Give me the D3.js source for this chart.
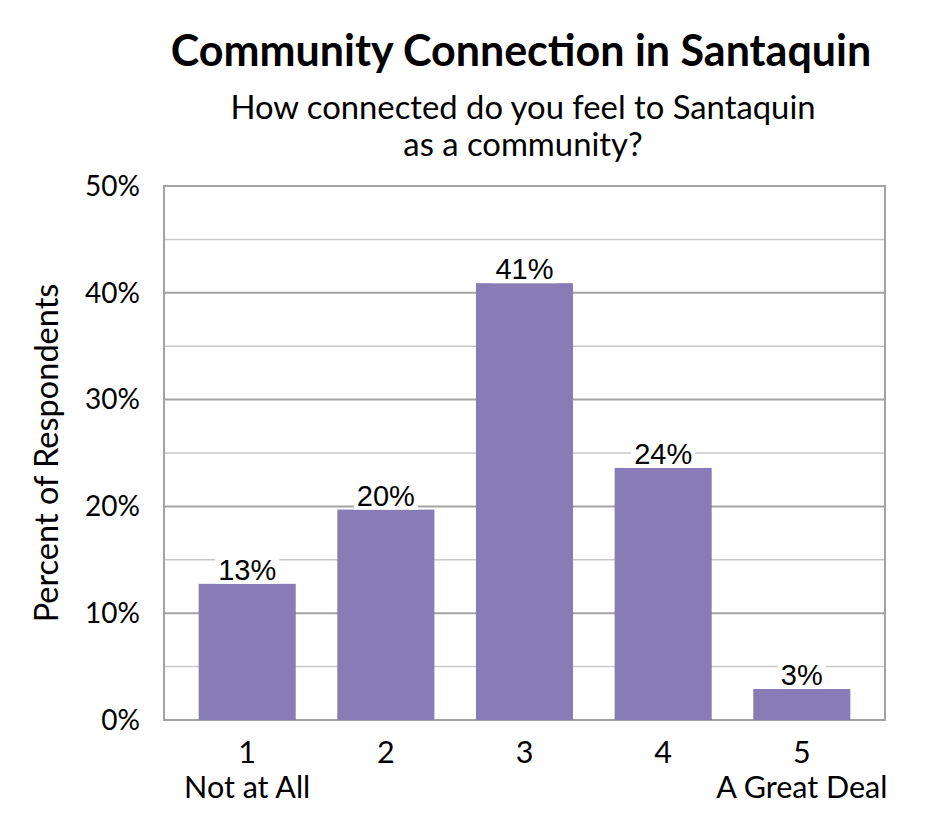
<!DOCTYPE html>
<html>
<head>
<meta charset="utf-8">
<script src="https://cdn.jsdelivr.net/npm/d3@7"></script>
<style>
  html, body { margin: 0; padding: 0; background: #fff; }
  svg { display: block; }
</style>
</head>
<body>
<svg id="chart" width="945" height="840"></svg>
<script>
// ---- data ----
const categories = ["1", "2", "3", "4", "5"];
const categorySubLabels = ["Not at All", "", "", "", "A Great Deal"];
const values = [12.75, 19.7, 40.9, 23.6, 2.9];
const valueLabels = ["13%", "20%", "41%", "24%", "3%"];
const yTicksMajor = [0, 10, 20, 30, 40, 50];
const yTicksMinor = [5, 15, 25, 35, 45];
const titleText = "Community Connection in Santaquin";
const subtitleLines = ["How connected do you feel to Santaquin", "as a community?"];
const yAxisTitle = "Percent of Respondents";

// ---- layout ----
const W = 945, H = 840;
const margin = { top: 186, right: 60, bottom: 120, left: 164 };
const uiFont = "Lato, 'Open Sans', sans-serif";
const labelFont = "'Liberation Sans', Arial, sans-serif";
const barColor = "#877cb5";

const svg = d3.select("#chart");

const x = d3.scaleBand()
  .domain(categories)
  .range([margin.left, W - margin.right])
  .paddingInner(0.3)
  .paddingOuter(0.25);

const y = d3.scaleLinear()
  .domain([0, 50])
  .range([H - margin.bottom, margin.top]);

// minor gridlines
svg.append("g").selectAll("line").data(yTicksMinor).join("line")
  .attr("x1", margin.left).attr("x2", W - margin.right)
  .attr("y1", d => y(d)).attr("y2", d => y(d))
  .attr("stroke", "#c9c9c9").attr("stroke-width", 1.5);

// major gridlines
svg.append("g").selectAll("line").data(yTicksMajor).join("line")
  .attr("x1", margin.left).attr("x2", W - margin.right)
  .attr("y1", d => y(d)).attr("y2", d => y(d))
  .attr("stroke", "#a3a3a3").attr("stroke-width", 2);

// plot border
svg.append("rect")
  .attr("x", margin.left).attr("y", y(50))
  .attr("width", W - margin.right - margin.left)
  .attr("height", y(0) - y(50))
  .attr("fill", "none").attr("stroke", "#a3a3a3").attr("stroke-width", 2);

// bars
svg.append("g").selectAll("rect").data(values).join("rect")
  .attr("x", (d, i) => x(categories[i]))
  .attr("y", d => y(d))
  .attr("width", x.bandwidth())
  .attr("height", d => y(0) - y(d))
  .attr("fill", barColor);

// value labels with white backgrounds
const vl = svg.append("g").selectAll("g").data(values).join("g");
vl.each(function(d, i) {
  const g = d3.select(this);
  const cx = x(categories[i]) + x.bandwidth() / 2;
  const t = g.append("text")
    .attr("x", cx).attr("y", y(d) - 4)
    .attr("text-anchor", "middle")
    .attr("font-family", labelFont)
    .attr("font-size", 29)
    .attr("fill", "#000")
    .text(valueLabels[i]);
  const bb = t.node().getBBox();
  g.insert("rect", "text")
    .attr("x", bb.x - 3).attr("y", bb.y + 3)
    .attr("width", bb.width + 6).attr("height", y(d) - (bb.y + 3))
    .attr("fill", "#fff");
});

// y tick labels
svg.append("g").selectAll("text").data(yTicksMajor).join("text")
  .attr("x", margin.left - 24)
  .attr("y", d => y(d))
  .attr("dy", "0.35em")
  .attr("text-anchor", "end")
  .attr("font-family", uiFont)
  .attr("font-size", 28)
  .attr("fill", "#000")
  .text(d => d + "%");

// x category labels
svg.append("g").selectAll("text").data(categories).join("text")
  .attr("x", d => x(d) + x.bandwidth() / 2)
  .attr("y", y(0) + 43)
  .attr("text-anchor", "middle")
  .attr("font-family", uiFont)
  .attr("font-size", 30.5)
  .attr("fill", "#000")
  .text(d => d);

svg.append("g").selectAll("text").data(categorySubLabels).join("text")
  .attr("x", (d, i) => x(categories[i]) + x.bandwidth() / 2)
  .attr("y", y(0) + 78)
  .attr("text-anchor", "middle")
  .attr("font-family", uiFont)
  .attr("font-size", 30.5)
  .attr("fill", "#000")
  .text(d => d);

// y axis title
svg.append("text")
  .attr("transform", `translate(58, ${(y(0) + y(50)) / 2}) rotate(-90)`)
  .attr("text-anchor", "middle")
  .attr("font-family", uiFont)
  .attr("font-size", 32.5)
  .attr("fill", "#000")
  .text(yAxisTitle);

// title
svg.append("text")
  .attr("x", 521).attr("y", 66)
  .attr("text-anchor", "middle")
  .attr("font-family", uiFont)
  .attr("font-weight", "bold")
  .attr("font-size", 43)
  .attr("fill", "#000")
  .text(titleText);

// subtitle
svg.append("g").selectAll("text").data(subtitleLines).join("text")
  .attr("x", 523)
  .attr("y", (d, i) => 119 + i * 37)
  .attr("text-anchor", "middle")
  .attr("font-family", uiFont)
  .attr("font-size", 32.8)
  .attr("fill", "#000")
  .text(d => d);
</script>
</body>
</html>
